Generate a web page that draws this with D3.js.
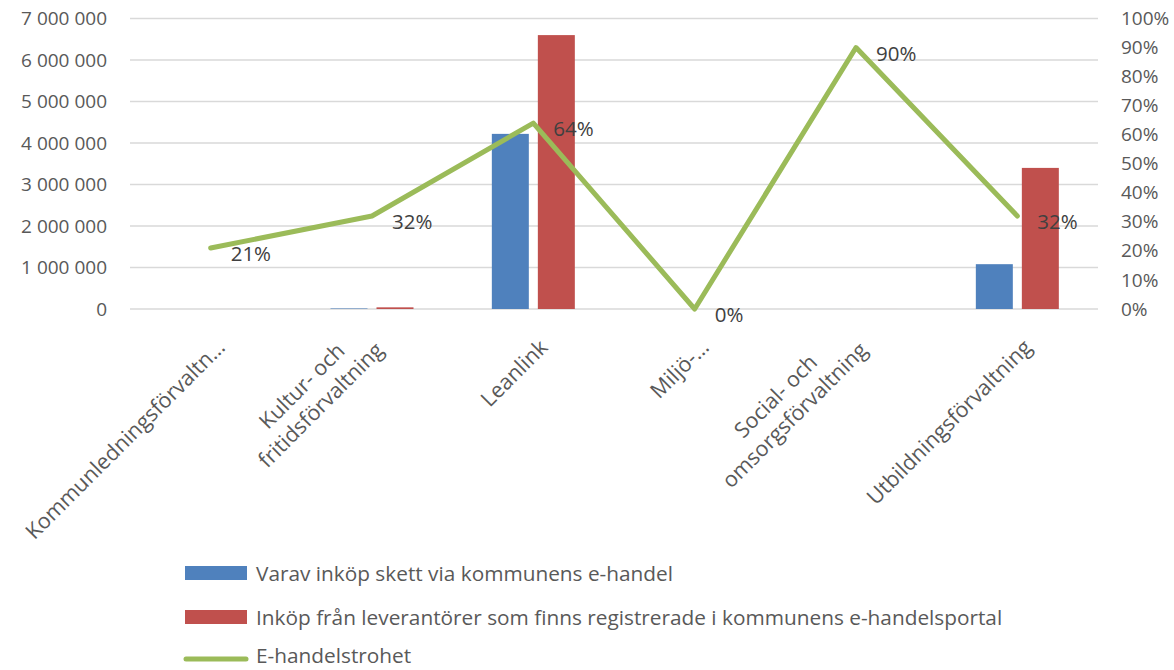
<!DOCTYPE html>
<html>
<head>
<meta charset="utf-8">
<script src="https://cdn.jsdelivr.net/npm/d3@7"></script>
<style>
  html, body { margin: 0; padding: 0; background: #fff; }
  svg { display: block; font-family: 'Open Sans', 'Liberation Sans', sans-serif; }
</style>
</head>
<body>
<div id="chart"></div>
<script>
const categories = ['Kommunledningsförvaltn…', 'Kultur- och fritidsförvaltning', 'Leanlink', 'Miljö-…', 'Social- och omsorgsförvaltning', 'Utbildningsförvaltning'];
const categoryLines = [['Kommunledningsförvaltn…'], ['Kultur- och', 'fritidsförvaltning'], ['Leanlink'], ['Miljö-…'], ['Social- och', 'omsorgsförvaltning'], ['Utbildningsförvaltning']];
const viaEhandel = [40, 12800, 4220000, 0, 270, 1080000];
const registrerade = [200, 40000, 6600000, 0, 300, 3400000];
const trohet = [0.21, 0.32, 0.64, 0, 0.90, 0.32];
const leftTicks = [0, 1000000, 2000000, 3000000, 4000000, 5000000, 6000000, 7000000];
const rightTicks = [0, 0.1, 0.2, 0.3, 0.4, 0.5, 0.6, 0.7, 0.8, 0.9, 1];
const seriesNames = ['Varav inköp skett via kommunens e-handel', 'Inköp från leverantörer som finns registrerade i kommunens e-handelsportal', 'E-handelstrohet'];

const W = 1174, H = 670;
const C = { blue: '#4f81bd', red: '#c0504d', green: '#9bbb59', grid: '#d9d9d9', axis: '#595959', label: '#404040' };
const M = { l: 130, r: 1098, t: 18.5, b: 309 };

const svg = d3.select('#chart').append('svg')
  .attr('width', W)
  .attr('height', H);

const x = d3.scaleBand().domain(categories).range([M.l, M.r]).padding(0);
const xs = d3.scaleBand().domain(['via', 'reg']).range([-41.5, 41.5]).paddingInner(0.196);
const y = d3.scaleLinear().domain([0, 7000000]).range([M.b, M.t]);
const yP = d3.scaleLinear().domain([0, 1]).range([M.b, M.t]);
const cx = c => x(c) + x.bandwidth() / 2;
const fmtNum = d => d3.format(',')(d).replace(/,/g, ' ');

// gridlines
svg.append('g')
  .selectAll('line')
  .data(leftTicks)
  .enter().append('line')
  .attr('x1', M.l).attr('x2', M.r)
  .attr('y1', d => y(d)).attr('y2', d => y(d))
  .attr('stroke', C.grid)
  .attr('stroke-width', 1.5);

// left axis
const gl = svg.append('g')
  .attr('transform', `translate(${M.l},0)`)
  .call(d3.axisLeft(y).tickValues(leftTicks).tickFormat(fmtNum).tickSize(0).tickPadding(23));
gl.select('.domain').remove();
gl.selectAll('text').attr('fill', C.axis).style('font-size', '19px').style('font-family', "'Open Sans', sans-serif");

// right axis
const gr = svg.append('g')
  .attr('transform', `translate(${M.r},0)`)
  .call(d3.axisRight(yP).tickValues(rightTicks).tickFormat(d3.format('.0%')).tickSize(0).tickPadding(23));
gr.select('.domain').remove();
gr.selectAll('text').attr('fill', C.axis).style('font-size', '19px').style('font-family', "'Open Sans', sans-serif");

// bars
const rows = categories.map((c, i) => ({ c, via: viaEhandel[i], reg: registrerade[i], p: trohet[i] }));
[['via', C.blue], ['reg', C.red]].forEach(([key, color]) => {
  svg.append('g')
    .selectAll('rect')
    .data(rows)
    .enter().append('rect')
    .attr('x', d => cx(d.c) + xs(key))
    .attr('width', xs.bandwidth())
    .attr('y', d => y(d[key]))
    .attr('height', d => y(0) - y(d[key]))
    .attr('fill', color);
});

// line
const line = d3.line().x(d => cx(d.c)).y(d => yP(d.p));
svg.append('path')
  .datum(rows)
  .attr('fill', 'none')
  .attr('stroke', C.green)
  .attr('stroke-width', 5)
  .attr('stroke-linejoin', 'round')
  .attr('stroke-linecap', 'round')
  .attr('d', line);

// data labels
svg.append('g')
  .selectAll('text')
  .data(rows)
  .enter().append('text')
  .attr('x', d => cx(d.c) + 20)
  .attr('y', d => yP(d.p) + 5)
  .attr('dominant-baseline', 'central')
  .attr('fill', C.label)
  .style('font-size', '20.5px')
  .text(d => d3.format('.0%')(d.p));

// category labels, rotated -45; lines centred against the longest,
// last line sits where a single line would
const xl = svg.append('g');
categories.forEach((c, i) => {
  const n = categoryLines[i].length;
  const g = xl.append('g')
    .attr('transform', `translate(${cx(c) + 2},${335}) rotate(-45)`);
  const t = g.append('text')
    .attr('fill', C.axis)
    .style('font-size', '21.5px');
  categoryLines[i].forEach((ln, j) => {
    t.append('tspan').attr('x', 0)
      .attr('dy', j === 0 ? (0.9 - (n - 1) * 1.25) + 'em' : '1.25em')
      .text(ln);
  });
  const lens = t.selectAll('tspan').nodes().map(nd => nd.getComputedTextLength());
  const maxLen = d3.max(lens);
  t.selectAll('tspan').attr('x', (d, j) => -maxLen / 2 - lens[j] / 2 - (n > 1 ? 4 : 0));
});

// legend
const legend = svg.append('g');
const legY = [573, 617, 655];
legend.append('rect').attr('x', 185).attr('y', legY[0] - 7).attr('width', 62).attr('height', 14).attr('fill', C.blue);
legend.append('rect').attr('x', 185).attr('y', legY[1] - 7).attr('width', 62).attr('height', 14).attr('fill', C.red);
legend.append('line').attr('x1', 186).attr('x2', 246).attr('y1', 659).attr('y2', 659)
  .attr('stroke', C.green).attr('stroke-width', 5).attr('stroke-linecap', 'round');
legend.selectAll('text')
  .data(seriesNames)
  .enter().append('text')
  .attr('x', 256)
  .attr('y', (d, i) => legY[i])
  .attr('dominant-baseline', 'central')
  .attr('fill', C.axis)
  .style('font-size', '20.8px')
  .text(d => d);
</script>
</body>
</html>
